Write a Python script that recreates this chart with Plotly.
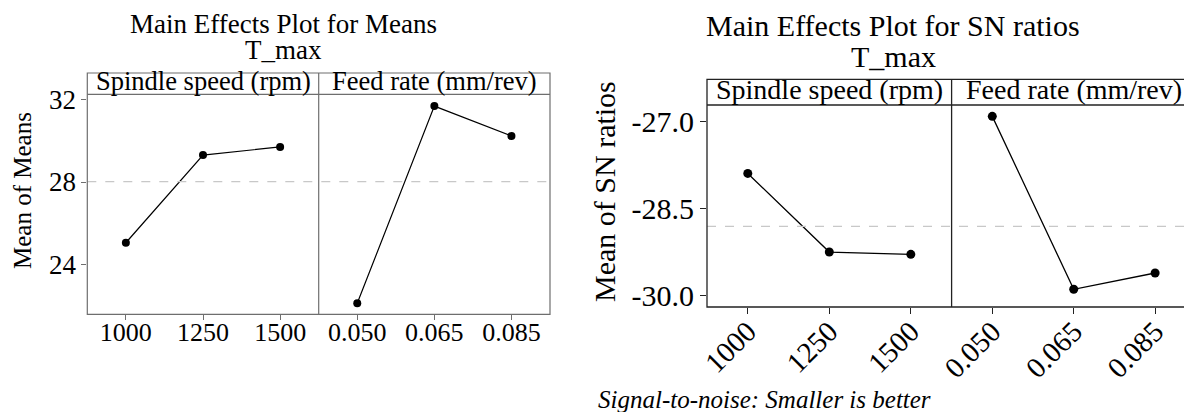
import numpy as np
import plotly.graph_objects as go

# ---------------- data ----------------
speed_labels = ["1000", "1250", "1500"]
feed_labels = ["0.050", "0.065", "0.085"]

means_speed = [25.07, 29.30, 29.69]
means_feed = [22.15, 31.66, 30.22]

sn_speed = [-27.90, -29.25, -29.29]
sn_feed = [-26.92, -29.89, -29.61]

means_ticks = [24, 28, 32]
sn_ticks = [-30.0, -28.5, -27.0]
sn_ticktext = ["-30.0", "-28.5", "-27.0"]

facet_titles = ["Spindle speed (rpm)", "Feed rate (mm/rev)"]

# ---------------- layout helpers ----------------
# the page body has an 8px default margin, so the figure is placed at (8, 8)
OFF = 8
FW, FH = 1192 - OFF, 412 - OFF
FONT = "Liberation Serif, Times New Roman, serif"


def px_x(x):
    return (x - OFF) / FW


def px_y(y):
    return 1 - (y - OFF) / FH


# left panel geometry (window pixels)
L_left, L_mid, L_right = 87.3, 318.7, 550.0
L_strip_top, L_strip_bot, L_bot = 73.0, 94.3, 314.3
# right panel geometry (window pixels)
R_left, R_mid, R_right = 707.0, 951.6, 1192.0
R_strip_top, R_strip_bot, R_bot = 79.3, 105.0, 307.0

L_col = "#6e6e6e"
R_col = "#222222"

fig = go.Figure()

line_L = dict(color="black", width=1.2)
mk_L = dict(color="black", size=8)
line_R = dict(color="black", width=1.3)
mk_R = dict(color="black", size=9)

fig.add_trace(go.Scatter(x=speed_labels, y=means_speed, mode="lines+markers",
                         line=line_L, marker=mk_L, xaxis="x", yaxis="y", showlegend=False))
fig.add_trace(go.Scatter(x=feed_labels, y=means_feed, mode="lines+markers",
                         line=line_L, marker=mk_L, xaxis="x2", yaxis="y", showlegend=False))
fig.add_trace(go.Scatter(x=speed_labels, y=sn_speed, mode="lines+markers",
                         line=line_R, marker=mk_R, xaxis="x3", yaxis="y2", showlegend=False))
fig.add_trace(go.Scatter(x=feed_labels, y=sn_feed, mode="lines+markers",
                         line=line_R, marker=mk_R, xaxis="x4", yaxis="y2", showlegend=False))

mean_L = float(np.mean(means_speed + means_feed))
mean_R = float(np.mean(sn_speed + sn_feed))

xcommon_L = dict(type="category", showgrid=False, zeroline=False, showline=False, automargin=False,
                 ticks="outside", ticklen=5, tickcolor=L_col, ticklabelstandoff=-11,
                 tickfont=dict(family=FONT, size=26, color="black"))
xcommon_R = dict(type="category", showgrid=False, zeroline=False, showline=False, automargin=False,
                 ticks="outside", ticklen=6, tickcolor=R_col, tickangle=-45, ticklabelstandoff=-11,
                 tickfont=dict(family=FONT, size=29, color="black"))

fig.update_layout(
    template="none",
    width=FW, height=FH, autosize=False,
    margin=dict(l=0, r=0, t=0, b=0, pad=0),
    paper_bgcolor="white", plot_bgcolor="rgba(0,0,0,0)",
    font=dict(family=FONT, color="black"),
    xaxis=dict(domain=[px_x(L_left), px_x(L_mid)], range=[-0.5, 2.5], anchor="y", **xcommon_L),
    xaxis2=dict(domain=[px_x(L_mid), px_x(L_right)], range=[-0.5, 2.5], anchor="y", **xcommon_L),
    yaxis=dict(domain=[px_y(L_bot), px_y(L_strip_bot)], range=[21.62, 32.23], anchor="x",
               tickvals=means_ticks, ticks="outside", ticklen=5, tickcolor=L_col, automargin=False,
               showgrid=False, zeroline=False, showline=False,
               tickfont=dict(family=FONT, size=27, color="black")),
    xaxis3=dict(domain=[px_x(R_left), px_x(R_mid)], range=[-0.5, 2.5], anchor="y2", **xcommon_R),
    xaxis4=dict(domain=[px_x(R_mid), 1.0], range=[-0.5, 2.453], anchor="y2", **xcommon_R),
    yaxis2=dict(domain=[px_y(R_bot), px_y(R_strip_bot)], range=[-30.194, -26.725], anchor="x3",
                tickvals=sn_ticks, ticktext=sn_ticktext, ticks="outside", ticklen=6, tickcolor=R_col,
                automargin=False, showgrid=False, zeroline=False, showline=False,
                tickfont=dict(family=FONT, size=30, color="black")),
)

shapes = []
# mean reference lines
shapes.append(dict(type="line", xref="paper", yref="y", x0=px_x(L_left), x1=px_x(L_right),
                   y0=mean_L, y1=mean_L, line=dict(color="#c8c8c8", width=1.2, dash="dash")))
shapes.append(dict(type="line", xref="paper", yref="y2", x0=px_x(R_left), x1=px_x(R_right),
                   y0=mean_R, y1=mean_R, line=dict(color="#c8c8c8", width=1.2, dash="dash")))
# left frame
shapes.append(dict(type="rect", xref="paper", yref="paper",
                   x0=px_x(L_left), x1=px_x(L_right), y0=px_y(L_bot), y1=px_y(L_strip_top),
                   line=dict(color=L_col, width=1.2)))
shapes.append(dict(type="line", xref="paper", yref="paper",
                   x0=px_x(L_left), x1=px_x(L_right), y0=px_y(L_strip_bot), y1=px_y(L_strip_bot),
                   line=dict(color=L_col, width=1.2)))
shapes.append(dict(type="line", xref="paper", yref="paper",
                   x0=px_x(L_mid), x1=px_x(L_mid), y0=px_y(L_bot), y1=px_y(L_strip_top),
                   line=dict(color=L_col, width=1.2)))
# right frame
shapes.append(dict(type="rect", xref="paper", yref="paper",
                   x0=px_x(R_left), x1=px_x(R_right + 4), y0=px_y(R_bot), y1=px_y(R_strip_top),
                   line=dict(color=R_col, width=1.3)))
shapes.append(dict(type="line", xref="paper", yref="paper",
                   x0=px_x(R_left), x1=px_x(R_right), y0=px_y(R_strip_bot), y1=px_y(R_strip_bot),
                   line=dict(color=R_col, width=1.3)))
shapes.append(dict(type="line", xref="paper", yref="paper",
                   x0=px_x(R_mid), x1=px_x(R_mid), y0=px_y(R_bot), y1=px_y(R_strip_top),
                   line=dict(color=R_col, width=1.3)))
fig.update_layout(shapes=shapes)

ann = []


def txt(x, y, text, size, angle=0, italic=False, xanchor="center"):
    ann.append(dict(x=px_x(x), y=px_y(y), xref="paper", yref="paper", text=text,
                    showarrow=False, xanchor=xanchor, yanchor="middle", textangle=angle,
                    font=dict(family=FONT, size=size, color="black",
                              style="italic" if italic else "normal")))


# titles
txt(283, 24, "Main Effects Plot for Means", 27)
txt(283, 50, "T_max", 27)
txt(893, 25, "Main Effects Plot for SN ratios", 30)
txt(893, 56, "T_max", 30)
# strip labels
txt((L_left + L_mid) / 2, 81, facet_titles[0], 26.5)
txt((L_mid + L_right) / 2, 81, facet_titles[1], 26.5)
txt((R_left + R_mid) / 2, 90, facet_titles[0], 28)
txt((R_mid + 1196) / 2, 90, facet_titles[1], 28)
# axis titles
txt(23, 191, "Mean of Means", 25, angle=-90)
txt(605, 192, "Mean of SN ratios", 30, angle=-90)
# footnote
txt(596, 399, "Signal-to-noise: Smaller is better", 25, italic=True, xanchor="left")

fig.update_layout(annotations=ann)

fig.write_html("out.html")
